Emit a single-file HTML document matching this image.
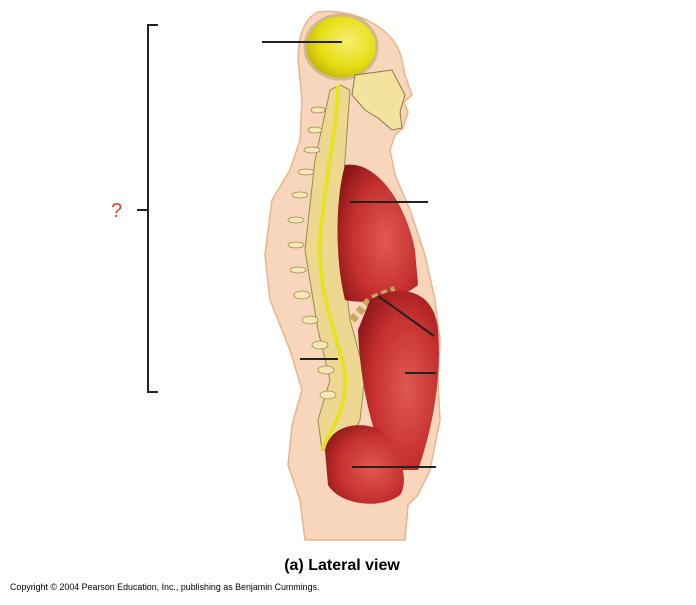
<!DOCTYPE html>
<html><head><style>
body{margin:0;background:#fff;width:696px;height:600px;overflow:hidden;font-family:"Liberation Sans",sans-serif}
</style></head><body>
<svg width="696" height="600" viewBox="0 0 696 600" xmlns="http://www.w3.org/2000/svg">
<defs>
<radialGradient id="br" cx="0.6" cy="0.4" r="0.7"><stop offset="0" stop-color="#f6f070"/><stop offset="0.6" stop-color="#e6dc10"/><stop offset="1" stop-color="#b8a800"/></radialGradient>
<radialGradient id="rd" cx="0.6" cy="0.55" r="0.7"><stop offset="0" stop-color="#e05a50"/><stop offset="0.6" stop-color="#c53030"/><stop offset="1" stop-color="#8a1515"/></radialGradient>
</defs>
<path d="M318,12 C350,8 395,25 402,60 L405,75 L412,95 L404,102 L408,112 L403,128 L395,135 L390,150 L395,175 L410,210 L425,255 L435,300 L440,340 L438,380 L440,420 L430,470 L418,495 L408,505 L405,540 L305,540 L300,500 L288,465 L292,425 L302,390 L290,350 L270,300 L265,255 L272,200 L290,170 L300,140 L302,100 L298,60 C298,35 305,18 318,12 Z" fill="#f8d6bc" stroke="#e9b48c" stroke-width="1.5"/>
<ellipse cx="341" cy="47" rx="36" ry="32" fill="url(#br)" stroke="#d0b890" stroke-width="3"/>
<path d="M355,75 L392,70 L405,95 L400,112 L402,128 L392,130 L378,118 L365,110 L352,95 Z" fill="#f4e3a0" stroke="#8a7a40" stroke-width="1"/>
<path d="M340,85 L350,90 L345,160 L340,240 L350,320 L365,375 L360,420 L345,450 L322,450 L318,420 L330,380 L318,330 L305,250 L315,160 L330,90 Z" fill="#ecd890" stroke="#9a8a50" stroke-width="1"/>
<g fill="#f6e8b6" stroke="#9a8a50" stroke-width="0.8">
<ellipse cx="318" cy="110" rx="7" ry="3"/><ellipse cx="315" cy="130" rx="7" ry="3"/><ellipse cx="312" cy="150" rx="8" ry="3"/><ellipse cx="306" cy="172" rx="8" ry="3"/><ellipse cx="300" cy="195" rx="8" ry="3"/><ellipse cx="296" cy="220" rx="8" ry="3"/><ellipse cx="296" cy="245" rx="8" ry="3"/><ellipse cx="298" cy="270" rx="8" ry="3"/><ellipse cx="302" cy="295" rx="8" ry="4"/><ellipse cx="310" cy="320" rx="8" ry="4"/><ellipse cx="320" cy="345" rx="8" ry="4"/><ellipse cx="326" cy="370" rx="8" ry="4"/><ellipse cx="328" cy="395" rx="8" ry="4"/>
</g>
<path d="M338,85 C338,120 325,180 320,240 C318,300 340,340 345,375 C348,410 330,430 322,450" fill="none" stroke="#e8e020" stroke-width="4"/>
<path d="M345,165 C375,160 405,200 415,250 L418,285 C400,300 370,305 345,300 C335,260 335,200 345,165 Z" fill="url(#rd)"/>
<path d="M352,320 L370,300 L395,290" stroke="#c8a860" stroke-width="8" fill="none" stroke-dasharray="6 4"/>
<path d="M370,300 C400,282 435,290 438,330 C442,380 432,430 418,470 L390,470 C370,430 360,380 358,330 Z" fill="url(#rd)"/>
<path d="M325,450 C330,425 360,420 380,430 C400,450 410,480 400,495 C380,510 340,505 328,485 Z" fill="url(#rd)"/>
<g stroke="#222" stroke-width="2" fill="none">
<line x1="262" y1="42" x2="342" y2="42"/>
<line x1="350" y1="202" x2="428" y2="202"/>
<line x1="378" y1="296" x2="434" y2="336"/>
<line x1="405" y1="373" x2="436" y2="373"/>
<line x1="352" y1="467" x2="436" y2="467"/>
<line x1="300" y1="359" x2="338" y2="359"/>
<path d="M158,25 L148,25 L148,392 L158,392"/>
<line x1="137" y1="210" x2="148" y2="210"/>
</g>
<text x="111" y="217" font-size="20" fill="#e04030">?</text>
<text x="342" y="570" font-size="16" font-weight="bold" text-anchor="middle" fill="#000">(a) Lateral view</text>
<text x="10" y="590" font-size="8.9" fill="#000">Copyright © 2004 Pearson Education, Inc., publishing as Benjamin Cummings.</text>
</svg>
</body></html>
